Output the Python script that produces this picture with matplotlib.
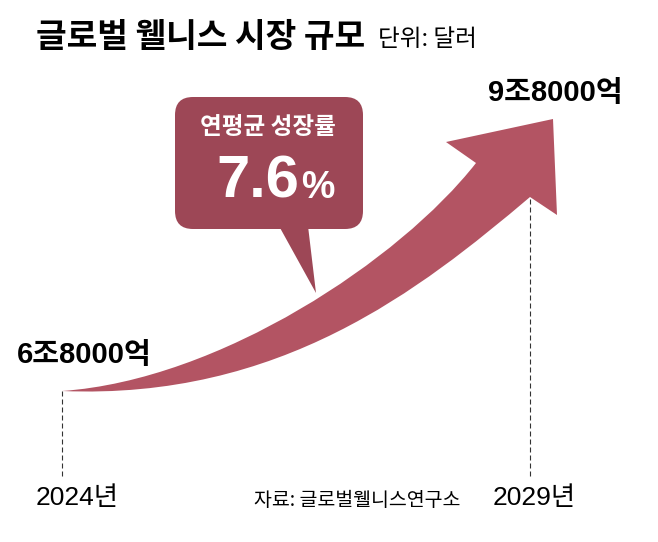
import matplotlib.pyplot as plt
from matplotlib.path import Path
from matplotlib.patches import PathPatch, FancyBboxPatch, Polygon
from matplotlib.transforms import Affine2D
from matplotlib import font_manager

# market size, 조 달러
years = [2024, 2029]
values = [6.8, 9.8]
value_labels = ['6조8000억', '9조8000억']
year_labels = ['2024년', '2029년']
cagr = 7.6
title = '글로벌 웰니스 시장 규모'
unit = '단위: 달러'
source = '자료: 글로벌웰니스연구소'
bubble_title = '연평균 성장률'

ARROW = '#b35463'
BUBBLE = '#9d4756'


def has_font(name):
    try:
        font_manager.findfont(font_manager.FontProperties(family=name),
                              fallback_to_default=False)
        return True
    except ValueError:
        return False


KR = 'Noto Sans CJK KR'
LAT = 'Liberation Sans'
NARROW = 'Liberation Sans Narrow' if has_font('Liberation Sans Narrow') else LAT

W, H = 658, 542
fig = plt.figure(figsize=(W / 100, H / 100), dpi=100)
ax = fig.add_axes([0, 0, 1, 1])
ax.axis('off')

# where the two data points land on the canvas (pixels from top-left)
x0px, x1px = 62, 530
y0px, y1px = 391, 119
sx = (x1px - x0px) / (years[1] - years[0])
sy = (y0px - y1px) / (values[1] - values[0])
ax.set_xlim(years[0] - x0px / sx, years[0] + (W - x0px) / sx)
ax.set_ylim(values[0] - (H - y0px) / sy, values[0] + y0px / sy)

# pixel coords (y down) for the decorations
pix = Affine2D().scale(1 / W, -1 / H).translate(0, 1) + fig.transFigure


def off(pt, dx, dy):
    # move a data point dx px right and dy px down
    return (pt[0] + dx / sx, pt[1] - dy / sy)


start = (years[0], values[0])
end = (years[1], values[1])

# curved growth arrow
verts = [start,
         off(start, 158, -11), off(end, -130, 141), off(end, -54, 44),
         off(end, -84, 23), off(end, 23, 0), off(end, 27, 96), off(end, 0, 78),
         off(end, -110, 171), off(start, 218, 9), start,
         start]
codes = [Path.MOVETO,
         Path.CURVE4, Path.CURVE4, Path.CURVE4,
         Path.LINETO, Path.LINETO, Path.LINETO, Path.LINETO,
         Path.CURVE4, Path.CURVE4, Path.CURVE4,
         Path.CLOSEPOLY]
ax.add_patch(PathPatch(Path(verts, codes), facecolor=ARROW, edgecolor='none', zorder=2))

# dashed guides down to the year labels
bottom = values[0] - (477 - y0px) / sy
ax.plot([years[0]] * 2, [values[0], bottom], ls=(0, (4.5, 2.7)), lw=0.8, color='#333333', zorder=1)
ax.plot([years[1]] * 2, [off(end, 0, 80)[1], bottom], ls=(0, (4.5, 2.7)), lw=0.8, color='#333333', zorder=1)

# value labels
for yr, v, lab, (dx, dy) in zip(years, values, value_labels, [(22, 36), (25, 26)]):
    ax.annotate(lab, xy=(yr, v), xytext=(dx, dy), textcoords='offset pixels',
                ha='center', va='center', fontsize=21, fontweight='bold',
                family=[NARROW, KR], color='black')

# year labels
for yr, lab, dx in zip(years, year_labels, [15, 4.5]):
    ax.annotate(lab, xy=(yr, H - 498), xycoords=('data', 'figure pixels'),
                xytext=(dx, 0), textcoords='offset pixels',
                ha='center', va='center', fontsize=19, family=[NARROW, KR], color='black')

# speech bubble
ax.add_patch(FancyBboxPatch((175, 97), 188, 132, boxstyle='round,pad=0,rounding_size=18',
                            transform=pix, facecolor=BUBBLE, edgecolor='none', zorder=3))
ax.add_patch(Polygon([(279, 226), (308, 226), (316, 293)], closed=True, transform=pix,
                     facecolor=BUBBLE, edgecolor='none', zorder=3))
ax.text(268, 127, bubble_title, transform=pix, ha='center', va='center', fontsize=17,
        fontweight='bold', family=[KR], color='white', zorder=4)
ax.text(299, 198, f'{cagr:.1f}', transform=pix, ha='right', va='baseline', fontsize=43,
        fontweight='bold', family=[LAT], color='white', zorder=4)
ax.text(301, 198, '%', transform=pix, ha='left', va='baseline', fontsize=27,
        fontweight='bold', family=[LAT], color='white', zorder=4)

# title, unit, source
ax.text(36, 37, title, transform=pix, ha='left', va='center', fontsize=24,
        fontweight='bold', family=[KR], color='black')
ax.text(378, 39, unit, transform=pix, ha='left', va='center', fontsize=17,
        family=[KR], color='black')
ax.text(254, 500, source, transform=pix, ha='left', va='center', fontsize=14,
        family=[KR], color='black')

fig.savefig('out.png', dpi=100, facecolor='white')
